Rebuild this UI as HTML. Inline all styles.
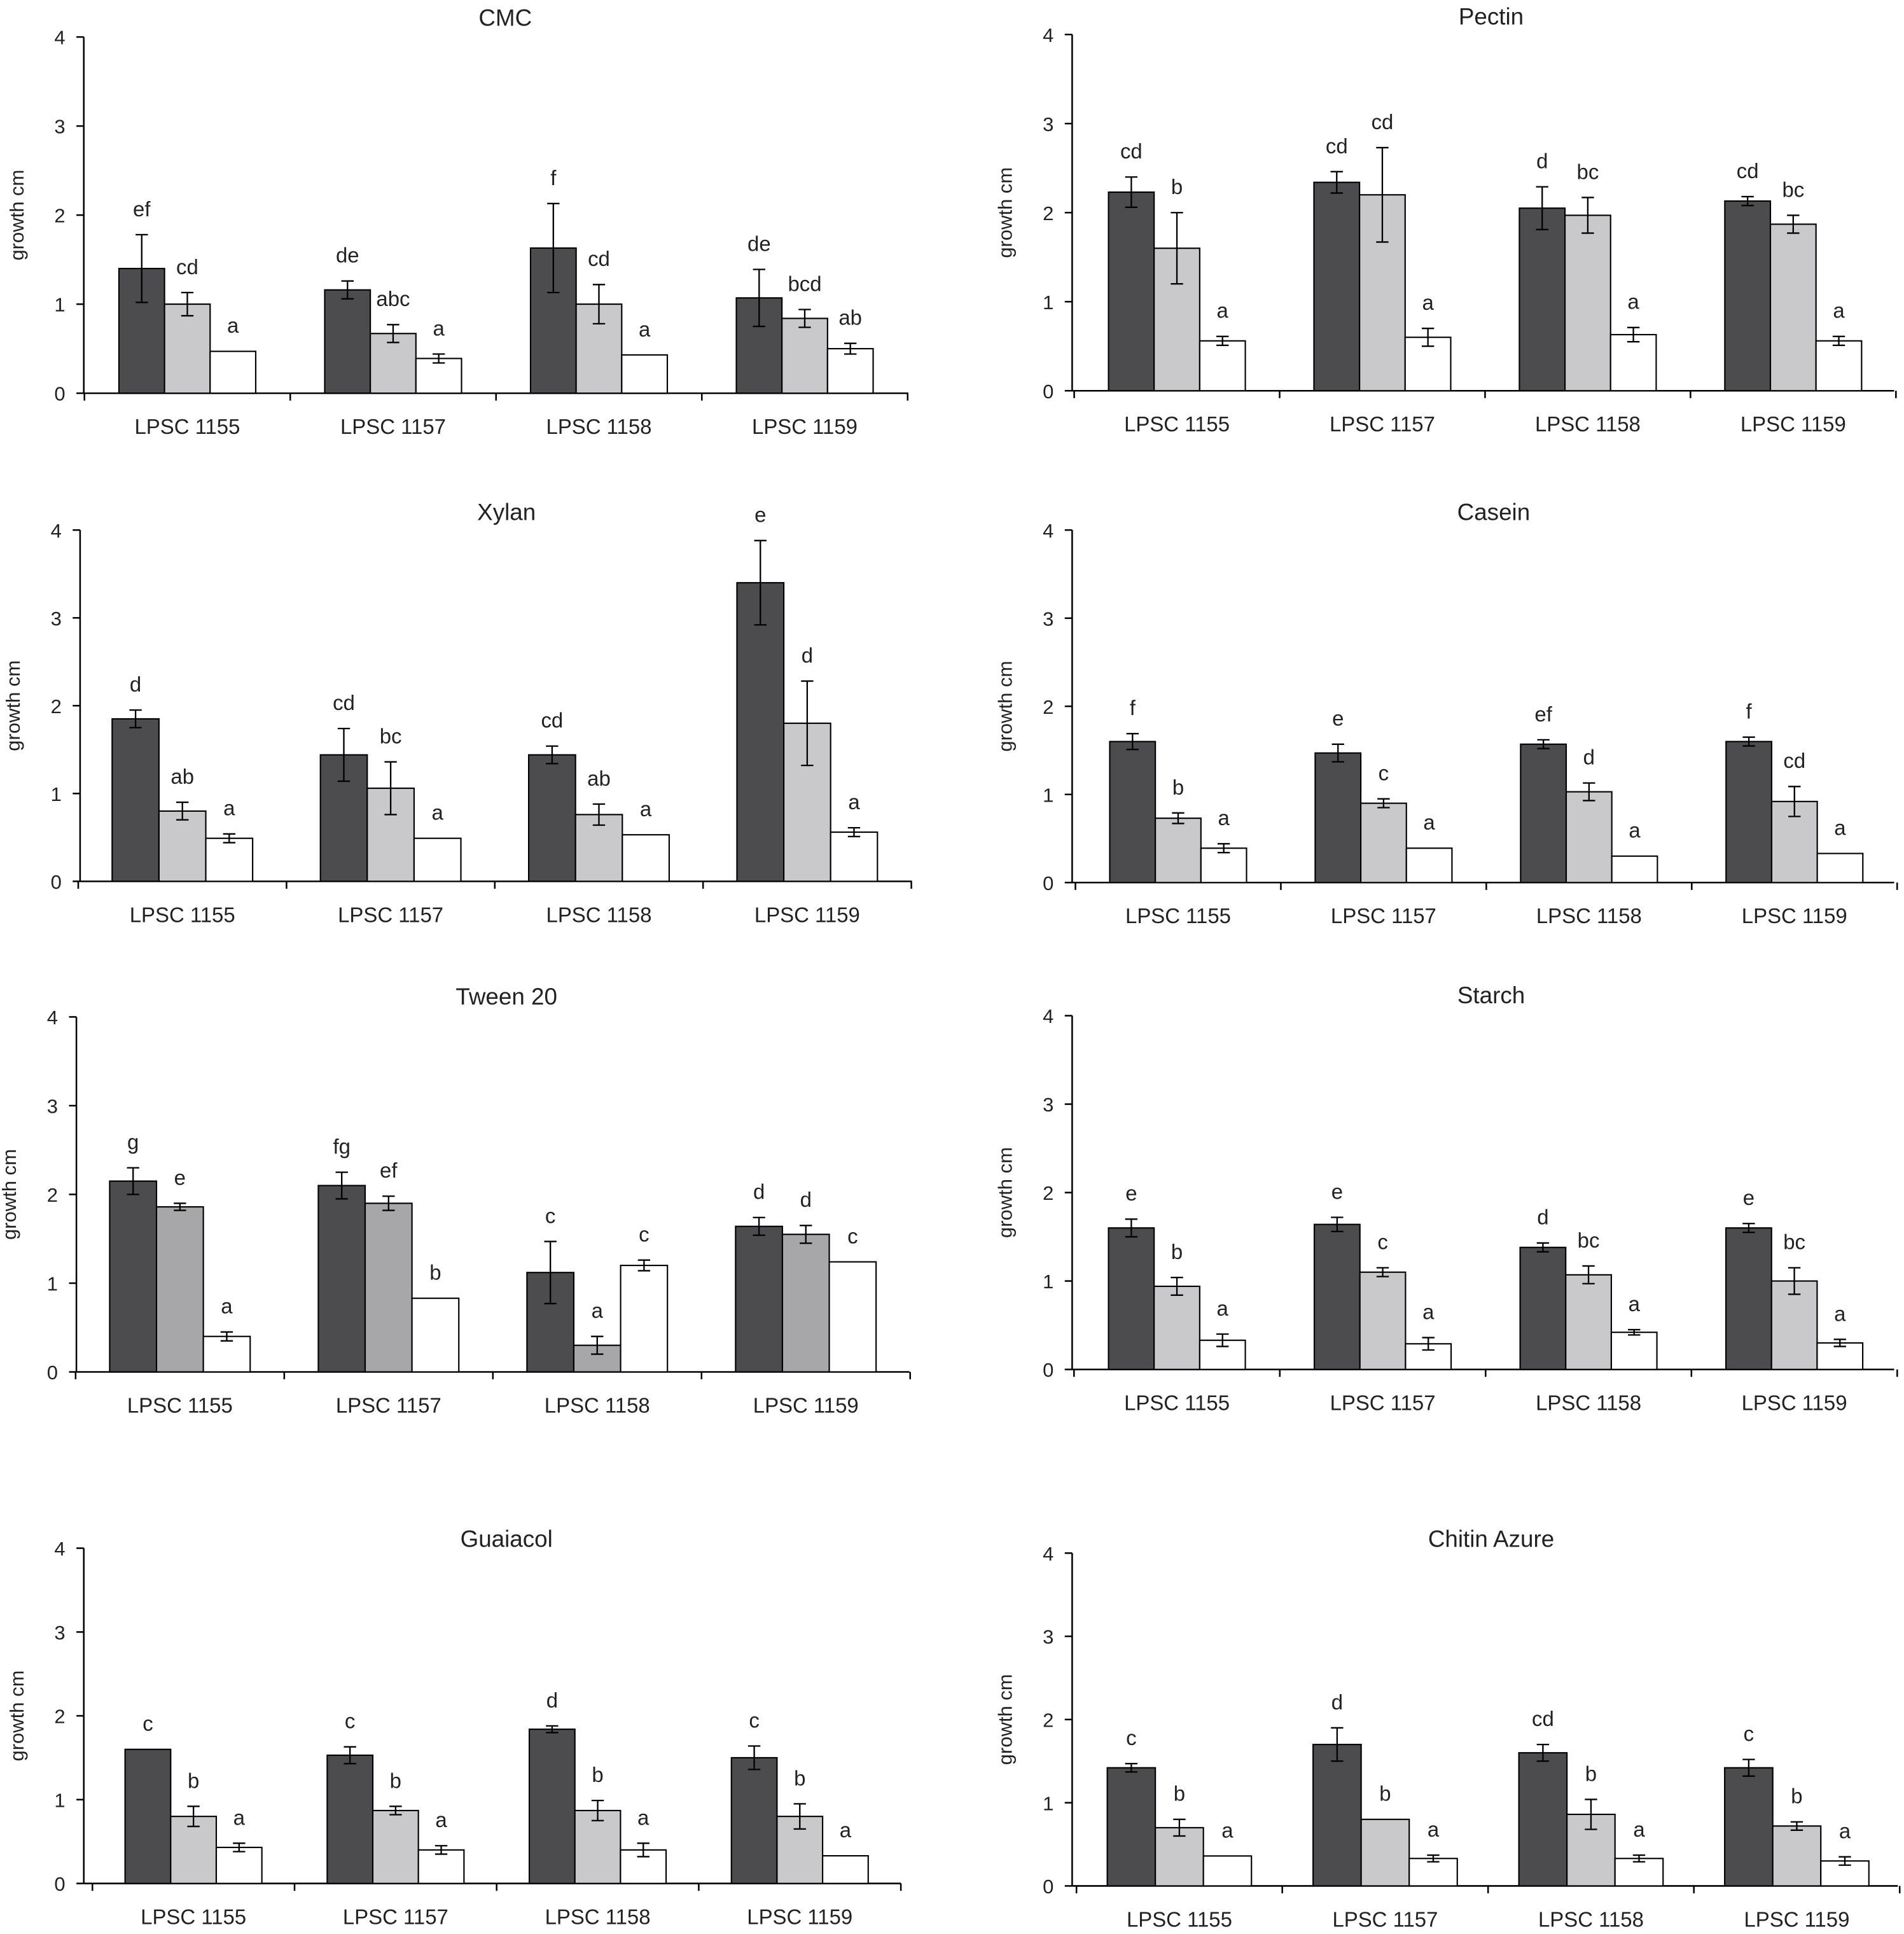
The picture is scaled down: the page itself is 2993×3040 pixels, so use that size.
<!DOCTYPE html>
<html><head><meta charset="utf-8"><style>
html,body{margin:0;padding:0;background:#fff;}
svg{display:block;font-family:"Liberation Sans",Arial,sans-serif;}
</style></head><body>
<svg id="fig" width="2993" height="3040" viewBox="0 0 1545 1569" preserveAspectRatio="none" xmlns="http://www.w3.org/2000/svg"></svg>
<script>
const groups = ["LPSC 1155","LPSC 1157","LPSC 1158","LPSC 1159"];
const yTicks = [0,1,2,3,4];
const titles = ["CMC","Pectin","Xylan","Casein","Tween 20","Starch","Guaiacol","Chitin Azure"];
const cmcVals = [[1.4,1.0,0.47],[1.16,0.67,0.39],[1.63,1.0,0.43],[1.07,0.84,0.5]];
const cmcErr = [[0.38,0.13,0],[0.1,0.1,0.05],[0.5,0.22,0],[0.32,0.1,0.06]];
const cmcLet = [["ef","cd","a"],["de","abc","a"],["f","cd","a"],["de","bcd","ab"]];
const pectinVals = [[2.23,1.6,0.56],[2.34,2.2,0.6],[2.05,1.97,0.63],[2.13,1.87,0.56]];
const pectinErr = [[0.17,0.4,0.05],[0.12,0.53,0.1],[0.24,0.2,0.08],[0.05,0.1,0.05]];
const pectinLet = [["cd","b","a"],["cd","cd","a"],["d","bc","a"],["cd","bc","a"]];
const xylanVals = [[1.85,0.8,0.49],[1.44,1.06,0.49],[1.44,0.76,0.53],[3.4,1.8,0.56]];
const xylanErr = [[0.1,0.1,0.05],[0.3,0.3,0],[0.1,0.12,0],[0.48,0.48,0.05]];
const xylanLet = [["d","ab","a"],["cd","bc","a"],["cd","ab","a"],["e","d","a"]];
const caseinVals = [[1.6,0.73,0.39],[1.47,0.9,0.39],[1.57,1.03,0.3],[1.6,0.92,0.33]];
const caseinErr = [[0.09,0.06,0.05],[0.1,0.05,0],[0.05,0.1,0],[0.05,0.17,0]];
const caseinLet = [["f","b","a"],["e","c","a"],["ef","d","a"],["f","cd","a"]];
const tweenVals = [[2.15,1.86,0.4],[2.1,1.9,0.83],[1.12,0.3,1.2],[1.64,1.55,1.24]];
const tweenErr = [[0.15,0.04,0.05],[0.15,0.08,0],[0.35,0.1,0.06],[0.1,0.1,0]];
const tweenLet = [["g","e","a"],["fg","ef","b"],["c","a","c"],["d","d","c"]];
const starchVals = [[1.6,0.94,0.33],[1.64,1.1,0.29],[1.38,1.07,0.42],[1.6,1.0,0.3]];
const starchErr = [[0.1,0.1,0.07],[0.08,0.05,0.07],[0.05,0.1,0.03],[0.05,0.15,0.04]];
const starchLet = [["e","b","a"],["e","c","a"],["d","bc","a"],["e","bc","a"]];
const guaiacolVals = [[1.6,0.8,0.43],[1.53,0.87,0.4],[1.84,0.87,0.4],[1.5,0.8,0.33]];
const guaiacolErr = [[0,0.12,0.05],[0.1,0.05,0.05],[0.04,0.12,0.08],[0.14,0.15,0]];
const guaiacolLet = [["c","b","a"],["c","b","a"],["d","b","a"],["c","b","a"]];
const chitinVals = [[1.42,0.7,0.36],[1.7,0.8,0.33],[1.6,0.86,0.33],[1.42,0.72,0.3]];
const chitinErr = [[0.05,0.1,0],[0.2,0,0.04],[0.1,0.18,0.04],[0.1,0.05,0.05]];
const chitinLet = [["c","b","a"],["d","b","a"],["cd","b","a"],["c","b","a"]];

const panels = [
 {ax:68,y0:319,y4:30,xe:737,c0:152,dc:167,bw:37,v:cmcVals,e:cmcErr,l:cmcLet,ty:14,tx:410},
 {ax:870,y0:317,y4:28,xe:1537,c0:955,dc:166.7,bw:37,v:pectinVals,e:pectinErr,l:pectinLet,ty:13,tx:1210},
 {ax:65,y0:715,y4:430,xe:740,c0:148,dc:169,bw:38,v:xylanVals,e:xylanErr,l:xylanLet,ty:415,tx:411},
 {ax:870,y0:716,y4:430,xe:1537,c0:956,dc:166.7,bw:37,v:caseinVals,e:caseinErr,l:caseinLet,ty:415,tx:1212},
 {ax:62,y0:1113,y4:825,xe:738,c0:146,dc:169.3,bw:38,v:tweenVals,e:tweenErr,l:tweenLet,ty:808,tx:411,mid:"#a7a7aa"},
 {ax:870,y0:1111,y4:824,xe:1537,c0:955,dc:167,bw:37,v:starchVals,e:starchErr,l:starchLet,ty:807,tx:1210},
 {ax:68,y0:1528,y4:1256,xe:731,c0:157,dc:164,bw:37,v:guaiacolVals,e:guaiacolErr,l:guaiacolLet,ty:1248,tx:411},
 {ax:870,y0:1530,y4:1260,xe:1540,c0:957,dc:167,bw:39,v:chitinVals,e:chitinErr,l:chitinLet,ty:1248,tx:1210}
];
const NS="http://www.w3.org/2000/svg";
const svg=document.getElementById('fig');
function mk(tag,attrs,parent){const el=document.createElementNS(NS,tag);for(const k in attrs)el.setAttribute(k,attrs[k]);parent.appendChild(el);return el;}
panels.forEach((p,pi)=>{
 const g=mk('g',{},svg);
 
 
 const ys=v=>p.y0-(p.y0-p.y4)*v/4;
 const t=mk('text',{x:p.tx,y:p.ty+7,'text-anchor':'middle','font-size':19,fill:'#222'},g);t.textContent=titles[pi];
 
 
 const yl=mk('text',{x:0,y:0,transform:`translate(${p.ax-49},${(p.y0+p.y4)/2}) rotate(-90)`,'text-anchor':'middle','font-size':16,fill:'#222'},g);yl.textContent='growth cm';
 
 
 mk('line',{x1:p.ax,y1:p.y4,x2:p.ax,y2:p.y0,stroke:'#000','stroke-width':1.3},g);
 mk('line',{x1:p.ax,y1:p.y0,x2:p.xe,y2:p.y0,stroke:'#000','stroke-width':1.3},g);
 yTicks.forEach(tv=>{
  mk('line',{x1:p.ax-6,y1:ys(tv),x2:p.ax,y2:ys(tv),stroke:'#000','stroke-width':1.3},g);
  const tl=mk('text',{x:p.ax-15,y:ys(tv)+6,'text-anchor':'end','font-size':16,fill:'#222'},g);tl.textContent=tv;
  
  
 });
 for(let k=0;k<=4;k++){const x=p.c0-p.dc/2+k*p.dc;mk('line',{x1:x,y1:p.y0,x2:x,y2:p.y0+6,stroke:'#000','stroke-width':1.3},g);}
 groups.forEach((gn,gi)=>{
  const cx=p.c0+gi*p.dc;
  const cl=mk('text',{x:cx,y:p.y0+33,'text-anchor':'middle','font-size':17,fill:'#222'},g);cl.textContent=gn;
  
  
  const fills=['#4c4c4e',p.mid||'#c9c9cb','#ffffff'];
  for(let s=0;s<3;s++){
   const v=p.v[gi][s],e=p.e[gi][s];
   const x=cx-1.5*p.bw+s*p.bw;
   const r=mk('rect',{x:x,y:ys(v),width:p.bw,height:p.y0-ys(v),fill:fills[s],stroke:'#000','stroke-width':1.1},g);
   
   
   const bx=x+p.bw/2;
   if(e>0){
    mk('line',{x1:bx,y1:ys(v-e),x2:bx,y2:ys(v+e),stroke:'#000','stroke-width':1.2},g);
    mk('line',{x1:bx-5,y1:ys(v+e),x2:bx+5,y2:ys(v+e),stroke:'#000','stroke-width':1.2},g);
    mk('line',{x1:bx-5,y1:ys(v-e),x2:bx+5,y2:ys(v-e),stroke:'#000','stroke-width':1.2},g);
   }
   const lt=mk('text',{x:bx,y:ys(v+e)-15,'text-anchor':'middle','font-size':17,fill:'#222'},g);lt.textContent=p.l[gi][s];
   
   
  }
 });
});
</script>
</body></html>
